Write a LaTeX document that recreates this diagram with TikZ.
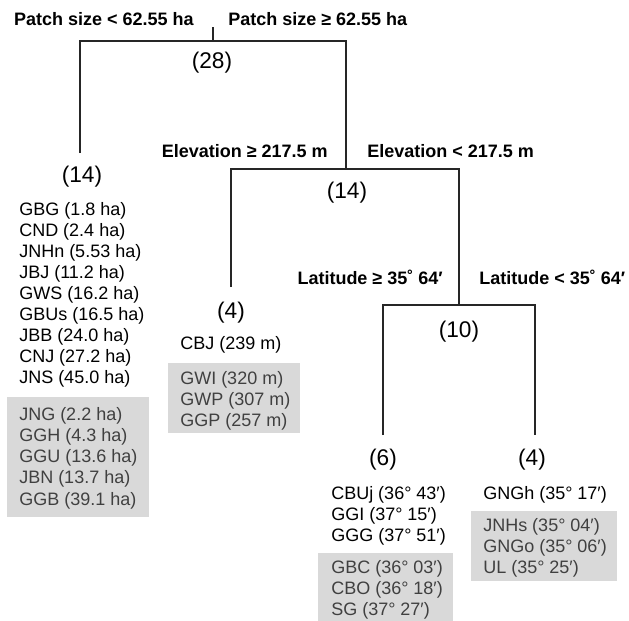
\documentclass[tikz,border=0pt]{standalone}
\usepackage{fontspec}
\setmainfont{Liberation Sans}
\definecolor{boxgrey}{HTML}{D9D9D9}
\definecolor{leafgrey}{HTML}{404040}
\tikzset{
  split/.style={font=\fontsize{13.5}{16}\selectfont\bfseries, inner sep=0pt},
  count/.style={font=\fontsize{17}{20}\selectfont, inner sep=0pt},
  leaf/.style={font=\fontsize{13.5}{16}\selectfont, inner sep=0pt, anchor=base west},
  faded/.style={leaf, text=leafgrey},
  branch/.style={line width=1.1pt, draw=black!85}
}

\begin{document}
\begin{tikzpicture}[x=0.75pt,y=-0.75pt]
\useasboundingbox (0,0) rectangle (629,621);

% grey boxes
\fill[boxgrey] (7,397) rectangle (149,517);
\fill[boxgrey] (168,363) rectangle (300,433);
\fill[boxgrey] (318,553) rectangle (453,621);
\fill[boxgrey] (471,511) rectangle (617,581);

% tree
\coordinate (a0) at (213,27);
\coordinate (h1) at (213,41);
\coordinate (a1) at (80,153);
\coordinate (a2) at (346,169);
\coordinate (b1) at (231,287);
\coordinate (a3) at (459,305);
\coordinate (c1) at (383,435);
\coordinate (c2) at (535,435);

\draw[branch] (a0) -- (h1);
\draw[branch] (a1) |- (h1) -| (a2);
\draw[branch] (b1) |- (a2) -| (a3);
\draw[branch] (c1) |- (a3) -| (c2);

% split labels
\node[split, anchor=base east] (ps1) at (194,26) {Patch size < 62.55 ha};
\node[split, anchor=base west] (ps2) at (228,26) {Patch size ≥ 62.55 ha};
\node[split, anchor=base east] (el1) at (328,157) {Elevation ≥ 217.5 m};
\node[split, anchor=base west] (el2) at (367,157) {Elevation < 217.5 m};
\node[split, anchor=base east] (la1) at (443,284) {Latitude ≥ 35˚ 64′};
\node[split, anchor=base west] (la2) at (479,284) {Latitude < 35˚ 64′};

% counts
\node[count] (n28) at (212,63) {(28)};
\node[count] (n14a) at (82,177) {(14)};
\node[count] (n14b) at (347,193) {(14)};
\node[count] (n4a) at (231,313) {(4)};
\node[count] (n10) at (459,332) {(10)};
\node[count] (n6) at (383,460) {(6)};
\node[count] (n4b) at (532,460) {(4)};

% leaves
\foreach \txt [count=\i] in {GBG (1.8 ha), CND (2.4 ha), JNHn (5.53 ha), JBJ (11.2 ha),
  GWS (16.2 ha), GBUs (16.5 ha), JBB (24.0 ha), CNJ (27.2 ha), JNS (45.0 ha)}
  \node[leaf] (pa\i) at (19,{194+21*\i}) {\txt};
\foreach \txt [count=\i] in {JNG (2.2 ha), GGH (4.3 ha), GGU (13.6 ha), JBN (13.7 ha), GGB (39.1 ha)}
  \node[faded] (pb\i) at (19,{399+21.2*\i}) {\txt};

\node[leaf] (el1a) at (180,349) {CBJ (239 m)};
\foreach \txt [count=\i] in {GWI (320 m), GWP (307 m), GGP (257 m)}
  \node[faded] (el1b\i) at (180,{363+21*\i}) {\txt};

\foreach \txt [count=\i] in {CBUj (36° 43′), GGI (37° 15′), GGG (37° 51′)}
  \node[leaf] (la1a\i) at (331,{478+21*\i}) {\txt};
\foreach \txt [count=\i] in {GBC (36° 03′), CBO (36° 18′), SG (37° 27′)}
  \node[faded] (la1b\i) at (331,{552+21*\i}) {\txt};

\node[leaf] (la2a) at (483,499) {GNGh (35° 17′)};
\foreach \txt [count=\i] in {JNHs (35° 04′), GNGo (35° 06′), UL (35° 25′)}
  \node[faded] (la2b\i) at (483,{510+21*\i}) {\txt};

\end{tikzpicture}
\end{document}
